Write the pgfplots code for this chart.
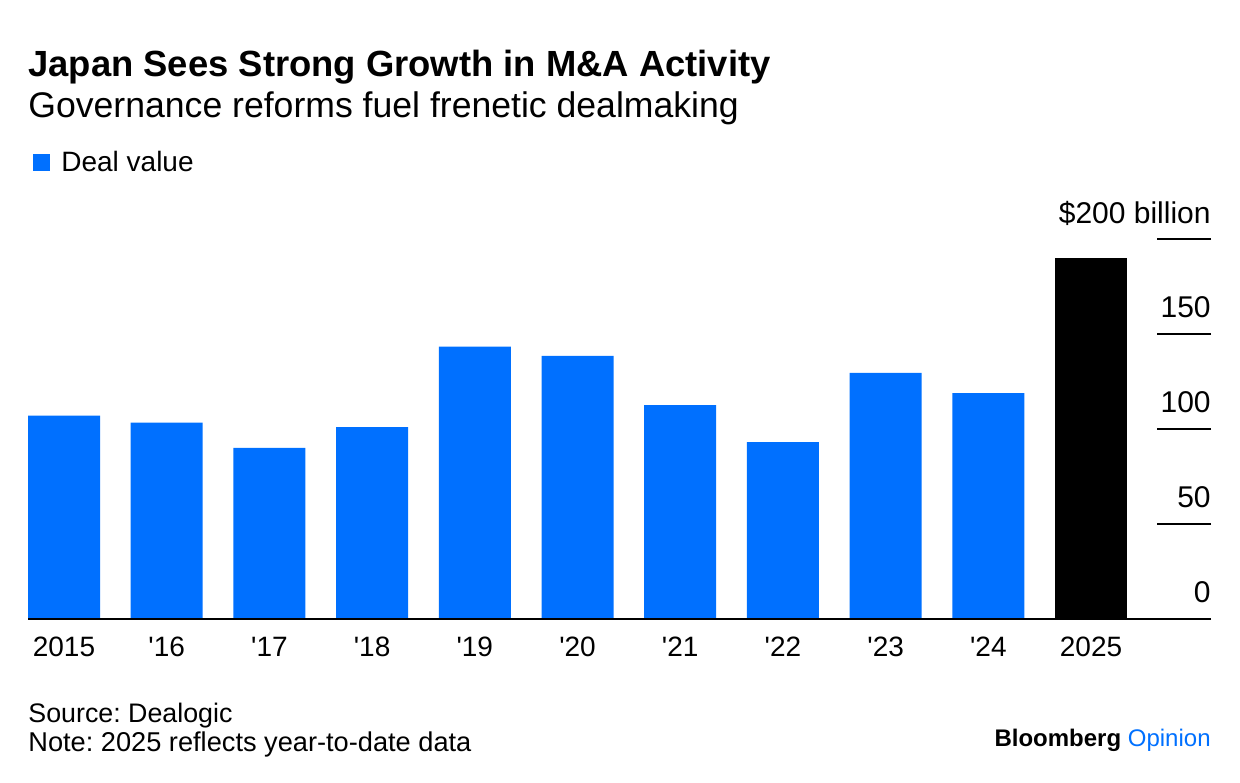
\documentclass[border=0pt]{standalone}
\usepackage{fontspec}
\setmainfont{Liberation Sans}
\usepackage{pgfplots}
\usepackage{pgfplotstable}
\pgfplotsset{compat=1.18}
\definecolor{bblue}{RGB}{0,112,255}
\pgfplotstableread{
x y
0 106.9
1 103.2
2 89.9
3 100.9
4 143.3
5 138.4
6 112.5
7 93.0
8 129.4
9 118.8
}\dealdata
\frenchspacing
\begin{document}
\begin{tikzpicture}
\useasboundingbox (0pt,0pt) rectangle (620pt,-391pt);
\node[anchor=base west, inner sep=0, font=\bfseries\fontsize{18.2}{20}\selectfont] at (14pt,-38pt) {Japan Sees Strong Growth in M\&A Activity};
\node[anchor=base west, inner sep=0, font=\fontsize{17.8}{20}\selectfont] at (14pt,-58.5pt) {Governance reforms fuel frenetic dealmaking};
\begin{axis}[
  at={(14pt,-309.25pt)}, anchor=south west,
  scale only axis, width=591.5pt, height=189.75pt,
  xmin=-0.3505, xmax=11.168, ymin=0, ymax=200,
  axis x line=bottom, axis y line=right,
  x axis line style={-, black, line width=1pt},
  y axis line style={draw=none},
  axis on top,
  xtick={0,...,10},
  xticklabels={2015,{\textquotesingle16},{\textquotesingle17},{\textquotesingle18},{\textquotesingle19},{\textquotesingle20},{\textquotesingle21},{\textquotesingle22},{\textquotesingle23},{\textquotesingle24},2025},
  ytick={0,50,100,150,200},
  yticklabels={0,50,100,150,\$200 billion},
  xtick style={draw=none},
  ytick style={black, line width=1pt},
  major tick length=27pt,
  tick align=inside,
  /pgf/number format/assume math mode=true,
  xticklabel style={anchor=base, inner sep=0pt, yshift=-19pt, font=\fontsize{14}{16}\selectfont},
  yticklabel style={anchor=base east, inner sep=0pt, yshift=8pt, font=\fontsize{15}{17}\selectfont},
  legend style={at={(axis description cs:0.0042,1.2003)}, anchor=west, draw=none, fill=none, inner sep=0pt, font=\fontsize{14}{16}\selectfont},
  legend cell align=left,
  legend image code/.code={\fill[bblue] (0pt,-4.25pt) rectangle (8.5pt,4.25pt);},
]
\addplot[ybar, bar width=36pt, bar shift=0pt, fill=bblue, draw=none] table[x=x,y=y] {\dealdata};
\addlegendentry{\hspace*{3.5pt}Deal value}
\addplot[ybar, bar width=36pt, bar shift=0pt, fill=black, draw=none, forget plot] coordinates {(10,189.8)};
\end{axis}
\node[anchor=base west, inner sep=0, font=\fontsize{13.4}{15}\selectfont] at (14pt,-361pt) {Source: Dealogic};
\node[anchor=base west, inner sep=0, font=\fontsize{13.6}{15}\selectfont] at (14pt,-375.5pt) {Note: 2025 reflects year-to-date data};
\node[anchor=base east, inner sep=0, font=\fontsize{12}{14}\selectfont] at (605.5pt,-373pt) {\bfseries Bloomberg \mdseries\color{bblue}Opinion};
\end{tikzpicture}
\end{document}
